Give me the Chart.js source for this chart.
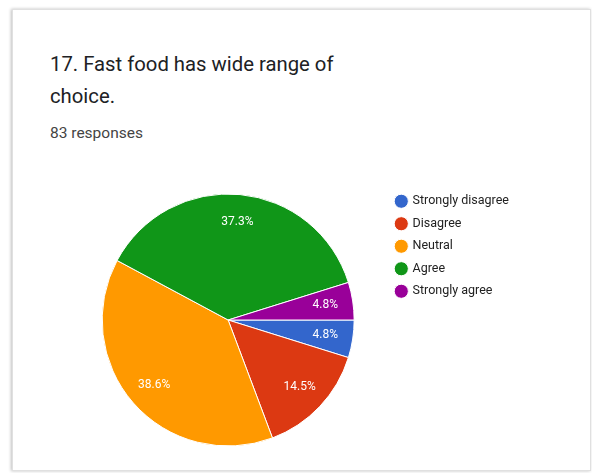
<!DOCTYPE html>
<html lang="en">
<head>
  <meta charset="UTF-8">
  <title>17. Fast food has wide range of choice.</title>
  <script src="https://cdn.jsdelivr.net/npm/chart.js@4.4.1/dist/chart.umd.min.js"></script>
  <style>
    html, body {
      margin: 0;
      padding: 0;
      background: #fff;
      width: 592px;
      height: 473px;
      overflow: hidden;
      font-family: Roboto, Arial, sans-serif;
    }

    .card {
      position: absolute;
      left: 12px;
      top: 9px;
      width: 577px;
      height: 460px;
      border: 1px solid #e0e0e0;
      box-shadow: -1px 0 3px rgba(0, 0, 0, 0.25);
      background: #fff;
    }

    .title {
      position: absolute;
      left: 50px;
      top: 48px;
      font-size: 20.3px;
      line-height: 32px;
      color: #202124;
    }

    .count {
      position: absolute;
      left: 50px;
      top: 123px;
      font-size: 15.5px;
      line-height: 20px;
      color: #444;
    }

    .chart-box {
      position: absolute;
      left: 70px;
      top: 185px;
      width: 449px;
      height: 270px;
    }
  </style>
</head>
<body>
  <div class="card"></div>
  <div class="title">17. Fast food has wide range of<br>choice.</div>
  <div class="count">83 responses</div>
  <div class="chart-box"><canvas id="pie"></canvas></div>

  <script>
    const answers = ['Strongly disagree', 'Disagree', 'Neutral', 'Agree', 'Strongly agree'];
    const responses = [4, 12, 32, 31, 4];
    const percentLabels = ['4.8%', '14.5%', '38.6%', '37.3%', '4.8%'];
    const sliceColors = ['#3366cc', '#dc3912', '#ff9900', '#109618', '#990099'];

    // white percentage text inside each slice
    const sliceLabels = {
      id: 'sliceLabels',
      afterDatasetsDraw(chart) {
        const ctx = chart.ctx;
        const arcs = chart.getDatasetMeta(0).data;
        ctx.save();
        ctx.font = '12px Roboto, Arial, sans-serif';
        ctx.fillStyle = '#fff';
        ctx.textAlign = 'center';
        ctx.textBaseline = 'middle';
        arcs.forEach((arc, i) => {
          const p = arc.getProps(['x', 'y', 'startAngle', 'endAngle', 'outerRadius'], true);
          const mid = (p.startAngle + p.endAngle) / 2;
          const r = p.outerRadius * 0.78;
          ctx.fillText(percentLabels[i], p.x + Math.cos(mid) * r, p.y + Math.sin(mid) * r);
        });
        ctx.restore();
      }
    };

    new Chart(document.getElementById('pie'), {
      type: 'pie',
      data: {
        labels: answers,
        datasets: [{
          data: responses,
          backgroundColor: sliceColors,
          borderColor: '#fff',
          borderWidth: 1
        }]
      },
      options: {
        responsive: true,
        maintainAspectRatio: false,
        animation: false,
        rotation: 90,
        radius: 126,
        layout: { padding: 0 },
        plugins: {
          tooltip: { enabled: false },
          legend: {
            position: 'right',
            align: 'start',
            labels: {
              usePointStyle: true,
              pointStyle: 'circle',
              boxWidth: 10,
              boxHeight: 10,
              padding: 10,
              color: '#222',
              font: { family: 'Roboto, Arial, sans-serif', size: 12.5 }
            }
          }
        }
      },
      plugins: [sliceLabels]
    });
  </script>
</body>
</html>
